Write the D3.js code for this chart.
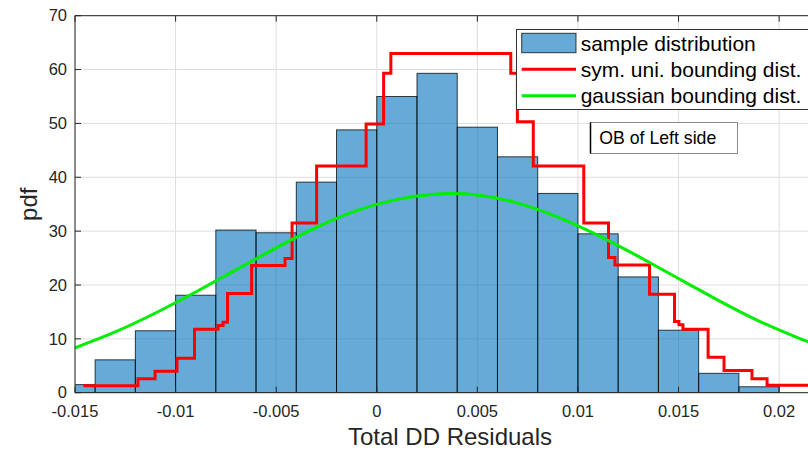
<!DOCTYPE html>
<html>
<head>
<meta charset="utf-8">
<script src="https://cdn.jsdelivr.net/npm/d3@7"></script>
<style>
  html, body { margin: 0; padding: 0; background: #fff; }
  svg { display: block; font-family: "Liberation Sans", Arial, sans-serif; }
</style>
</head>
<body>
<svg id="chart" width="808" height="450"></svg>
<script>
// Histogram of residuals: bin edges and pdf heights
const binEdges = [-0.016, -0.014, -0.012, -0.010, -0.008, -0.006, -0.004, -0.002, 0.000,
                  0.002, 0.004, 0.006, 0.008, 0.010, 0.012, 0.014, 0.016, 0.018, 0.020];
const binHeights = [1.5, 6.1, 11.5, 18.1, 30.2, 29.7, 39.1, 48.8, 55.0,
                    59.3, 49.3, 43.8, 37.0, 29.5, 21.5, 11.6, 3.6, 1.1];

// Symmetric uniform bounding distribution (step function, value holds from each x)
const stepX = [-0.01458, -0.01187, -0.01102, -0.00993, -0.00906, -0.00789, -0.00764, -0.00742,
               -0.00622, -0.00456, -0.00421, -0.00299, -0.00053, 0.00034, 0.00070, 0.00666,
               0.00699, 0.00778, 0.01029, 0.01152, 0.01184, 0.01356, 0.01480, 0.01502,
               0.01522, 0.01647, 0.01726, 0.01865, 0.01940, 0.02250];
const stepY = [1.3, 2.6, 4.0, 6.4, 11.8, 12.5, 13.1, 18.4,
               23.6, 24.9, 31.5, 42.1, 49.9, 59.3, 63.0, 59.3,
               50.3, 42.1, 31.5, 25.1, 23.7, 18.3, 13.2, 12.6,
               11.8, 6.6, 4.1, 2.6, 1.4, 1.4];

// Gaussian bounding distribution, sampled
const gaussX = [-0.015, -0.013, -0.011, -0.009, -0.007, -0.005, -0.003, -0.001, 0.001, 0.003,
                0.005, 0.007, 0.009, 0.011, 0.013, 0.015, 0.017, 0.019, 0.021, 0.0225];
const gaussY = [8.35, 11.3, 14.8, 18.7, 22.8, 26.9, 30.7, 33.8, 35.9, 36.9,
                36.7, 35.2, 32.6, 29.2, 25.3, 21.2, 17.1, 13.3, 10.1, 7.95];

// Axis ticks
const xTicks = [-0.015, -0.01, -0.005, 0, 0.005, 0.01, 0.015, 0.02];
const xTickLabels = ["-0.015", "-0.01", "-0.005", "0", "0.005", "0.01", "0.015", "0.02"];
const yTicks = [0, 10, 20, 30, 40, 50, 60, 70];
const yTickLabels = ["0", "10", "20", "30", "40", "50", "60", "70"];

const legendLabels = ["sample distribution", "sym. uni. bounding dist.", "gaussian bounding dist."];
const noteText = "OB of Left side";

const svg = d3.select("#chart");
const plot = { left: 75, top: 15.7, right: 826, bottom: 392.7 };

const x = d3.scaleLinear().domain([-0.015, 0.02233]).range([plot.left, plot.right]);
const y = d3.scaleLinear().domain([0, 70]).range([plot.bottom, plot.top]);

const textColor = "#262626";
const barColor = "rgb(0,114,189)";

svg.append("defs").append("clipPath").attr("id", "plotClip")
  .append("rect")
  .attr("x", plot.left).attr("y", plot.top)
  .attr("width", plot.right - plot.left).attr("height", plot.bottom - plot.top);

// Grid
const grid = svg.append("g");
grid.selectAll("line.gx").data(xTicks).join("line")
  .attr("x1", d => x(d)).attr("x2", d => x(d))
  .attr("y1", plot.top).attr("y2", plot.bottom)
  .attr("stroke", "#dedede").attr("stroke-width", 1);
grid.selectAll("line.gy").data(yTicks).join("line")
  .attr("x1", plot.left).attr("x2", plot.right)
  .attr("y1", d => y(d)).attr("y2", d => y(d))
  .attr("stroke", "#dedede").attr("stroke-width", 1);

const area = svg.append("g").attr("clip-path", "url(#plotClip)");

// Histogram bars
area.selectAll("rect.bar").data(binHeights).join("rect")
  .attr("class", "bar")
  .attr("x", (d, i) => x(binEdges[i]))
  .attr("width", (d, i) => x(binEdges[i + 1]) - x(binEdges[i]))
  .attr("y", d => y(d))
  .attr("height", d => y(0) - y(d))
  .attr("fill", barColor).attr("fill-opacity", 0.6)
  .attr("stroke", "#000").attr("stroke-opacity", 0.75).attr("stroke-width", 1);

// Uniform bounding distribution (red steps)
const stepData = stepX.map((d, i) => [d, stepY[i]]);
area.append("path").datum(stepData)
  .attr("fill", "none").attr("stroke", "#ff0000").attr("stroke-width", 3)
  .attr("stroke-linejoin", "miter")
  .attr("d", d3.line().x(d => x(d[0])).y(d => y(d[1])).curve(d3.curveStepAfter));

// Gaussian bounding distribution (green)
const gaussData = gaussX.map((d, i) => [d, gaussY[i]]);
area.append("path").datum(gaussData)
  .attr("fill", "none").attr("stroke", "#00ee00").attr("stroke-width", 3)
  .attr("d", d3.line().x(d => x(d[0])).y(d => y(d[1])).curve(d3.curveNatural));

// Axes box lines and inward ticks
const axes = svg.append("g").attr("stroke", textColor).attr("stroke-width", 1);
axes.append("line").attr("x1", plot.left).attr("x2", plot.right).attr("y1", plot.bottom).attr("y2", plot.bottom);
axes.append("line").attr("x1", plot.left).attr("x2", plot.right).attr("y1", plot.top).attr("y2", plot.top);
axes.append("line").attr("x1", plot.left).attr("x2", plot.left).attr("y1", plot.top).attr("y2", plot.bottom);
axes.selectAll("line.tb").data(xTicks).join("line")
  .attr("x1", d => x(d)).attr("x2", d => x(d)).attr("y1", plot.bottom).attr("y2", plot.bottom - 6);
axes.selectAll("line.tt").data(xTicks).join("line")
  .attr("x1", d => x(d)).attr("x2", d => x(d)).attr("y1", plot.top).attr("y2", plot.top + 6);
axes.selectAll("line.tl").data(yTicks).join("line")
  .attr("x1", plot.left).attr("x2", plot.left + 6).attr("y1", d => y(d)).attr("y2", d => y(d));

// Tick labels
svg.append("g").selectAll("text").data(xTicks).join("text")
  .attr("x", d => x(d)).attr("y", 416.5)
  .attr("text-anchor", "middle").attr("font-size", 16.5).attr("fill", textColor)
  .text((d, i) => xTickLabels[i]);
svg.append("g").selectAll("text").data(yTicks).join("text")
  .attr("x", 67).attr("y", d => y(d)).attr("dy", "0.35em")
  .attr("text-anchor", "end").attr("font-size", 16.5).attr("fill", textColor)
  .text((d, i) => yTickLabels[i]);

// Axis titles
svg.append("text").attr("x", 450).attr("y", 445)
  .attr("text-anchor", "middle").attr("font-size", 24).attr("fill", textColor)
  .text("Total DD Residuals");
svg.append("text")
  .attr("transform", `translate(37,${(plot.top + plot.bottom) / 2}) rotate(-90)`)
  .attr("text-anchor", "middle").attr("font-size", 24).attr("fill", textColor)
  .text("pdf");

// Legend
const lg = svg.append("g");
lg.append("rect").attr("x", 516.5).attr("y", 29.5).attr("width", 330).attr("height", 80)
  .attr("fill", "#fff").attr("stroke", "#333").attr("stroke-width", 1);
lg.append("rect").attr("x", 521.7).attr("y", 33.3).attr("width", 54.3).attr("height", 19.4)
  .attr("fill", barColor).attr("fill-opacity", 0.6)
  .attr("stroke", "#000").attr("stroke-opacity", 0.75);
lg.append("line").attr("x1", 521.7).attr("x2", 576).attr("y1", 69.3).attr("y2", 69.3)
  .attr("stroke", "#ff0000").attr("stroke-width", 3);
lg.append("line").attr("x1", 521.7).attr("x2", 576).attr("y1", 95.7).attr("y2", 95.7)
  .attr("stroke", "#00ee00").attr("stroke-width", 3);
lg.selectAll("text").data(legendLabels).join("text")
  .attr("x", 580.7).attr("y", (d, i) => 50.5 + i * 26.2)
  .attr("font-size", 21).attr("fill", "#000")
  .text(d => d);

// Annotation box
const nb = svg.append("g");
nb.append("rect").attr("x", 590.5).attr("y", 122.5).attr("width", 147).attr("height", 31)
  .attr("fill", "#fff").attr("stroke", "#8a8a8a").attr("stroke-width", 1);
nb.append("line").attr("x1", 590.5).attr("x2", 590.5).attr("y1", 122.5).attr("y2", 153.5)
  .attr("stroke", "#000").attr("stroke-width", 1.5);
nb.append("text").attr("x", 599.3).attr("y", 143.5)
  .attr("font-size", 17.7).attr("fill", "#000").text(noteText);
</script>
</body>
</html>
